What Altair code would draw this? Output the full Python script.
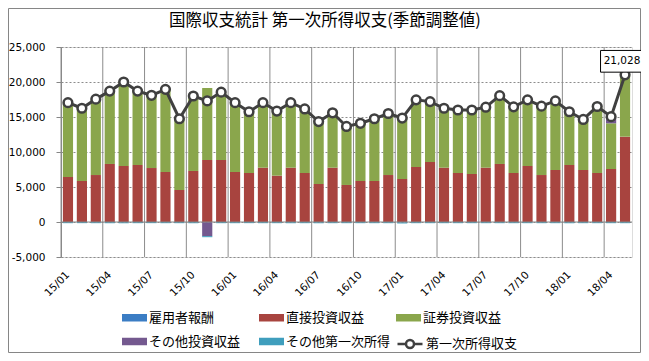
import altair as alt
import pandas as pd

months = ["15/01", "15/02", "15/03", "15/04", "15/05", "15/06", "15/07", "15/08", "15/09", "15/10", "15/11", "15/12",
          "16/01", "16/02", "16/03", "16/04", "16/05", "16/06", "16/07", "16/08", "16/09", "16/10", "16/11", "16/12",
          "17/01", "17/02", "17/03", "17/04", "17/05", "17/06", "17/07", "17/08", "17/09", "17/10", "17/11", "17/12",
          "18/01", "18/02", "18/03", "18/04", "18/05"]
label_months = ["15/01", "15/04", "15/07", "15/10", "16/01", "16/04", "16/07", "16/10",
                "17/01", "17/04", "17/07", "17/10", "18/01", "18/04"]

title_text = "国際収支統計 第一次所得収支(季節調整値)"
bar_names = ["雇用者報酬", "直接投資収益", "証券投資収益", "その他投資収益", "その他第一次所得"]
bar_colors = ["#3B7DC4", "#A8443F", "#8AA64C", "#74598F", "#3F9EBD"]
line_name = "第一次所得収支"

employee = [-20, -15, -20, -25, -20, -20, -15, -20, -20, -25, -20, -20, -20, -15, -20, -20, -25, -20, -20, -20, -20,
            -20, -20, -20, -60, -20, -20, -20, -20, -20, -20, -20, -20, -20, -20, -20, -20, -20, -20, -20, -20]
direct = [6430, 5860, 6710, 8290, 8000, 8140, 7710, 7140, 4570, 7290, 8860, 8860, 7140, 7000, 7760, 6620, 7760,
          7000, 5430, 7760, 5290, 5860, 5860, 6710, 6140, 7860, 8570, 7760, 7000, 6860, 7760, 8290, 7000, 8000,
          6710, 7430, 8140, 7430, 7000, 7570, 12190]
portfolio = [10690, 10460, 10910, 10480, 12070, 10630, 10460, 11880, 10250, 10780, 10280, 9760, 9980, 8820, 9360,
             9300, 9360, 9220, 8990, 7910, 8430, 8310, 8960, 8860, 8780, 9660, 8700, 8560, 9070, 9210, 8710, 9830,
             9520, 9520, 9910, 9940, 7480, 7290, 9570, 6530, 8900]
other_invest = [100, 100, 100, 100, 100, 100, 100, 100, 100, 100, -2000, 100, 100, 100, 100, 100, 100, 100, 100,
                100, 100, 100, 100, 100, 100, 100, 100, 100, 100, 100, 100, 100, 100, 100, 100, 100, 300, 100, 100,
                600, 100]
other_primary = [-150, -150, -150, -150, -150, -150, -150, -150, -150, -150, -150, -150, -150, -150, -150, -150,
                 -150, -150, -150, -150, -150, -150, -150, -150, -150, -150, -150, -150, -150, -150, -150, -150,
                 -150, -150, -150, -150, -150, -150, -150, -150, -150]
total = [17050, 16250, 17550, 18700, 20000, 18700, 18100, 18950, 14750, 18000, 17300, 18550, 17050, 15750, 17050,
         15850, 17050, 16150, 14350, 15600, 13650, 14100, 14750, 15500, 14850, 17450, 17200, 16250, 16000, 16000,
         16400, 18050, 16450, 17450, 16550, 17300, 15750, 14650, 16500, 15050, 21028]
y_ticks = [-5000, 0, 5000, 10000, 15000, 20000, 25000]

components = [employee, direct, portfolio, other_invest, other_primary]
rows = []
for k, vals in enumerate(components):
    for m, v in zip(months, vals):
        rows.append({"month": m, "series": bar_names[k], "order": k, "value": v})
bars_df = pd.DataFrame(rows)
total_df = pd.DataFrame({"month": months, "total": total, "series": line_name})
last_df = pd.DataFrame({"month": [months[-1]], "total": [total[-1]], "label": ["21,028"]})
grid_df = pd.DataFrame({"month": label_months})
zero_df = pd.DataFrame({"y": [0]})

W, H = 571, 210
PL, PT, PR, PB = 53, 39, 9, 96

x_scale = alt.Scale(domain=months, paddingInner=0, paddingOuter=0)
y_scale = alt.Scale(domain=[-5000, 25000], nice=False)

x_axis = alt.Axis(values=label_months, labelAngle=-45, labelAlign="right", labelBaseline="middle",
                  ticks=False, domain=False, grid=False, labelPadding=16, title=None,
                  labelOverlap=False, labelFont="DejaVu Sans", labelFontSize=10.5, labelColor="#000")
y_axis = alt.Axis(values=y_ticks, grid=True, gridDash=[2, 2], gridColor="#8c8c8c", domainColor="#868686",
                  tickColor="#868686", tickSize=5, labelPadding=11, labelFont="DejaVu Sans",
                  labelFontSize=10.5, labelColor="#000", title=None, labelOverlap=False,
                  labelExpr="(datum.value < 0 ? '-' : '') + format(abs(datum.value), ',')")

LINE_SYM = "M-1,0H-0.32M0.32,0H1M-0.32,0A0.32,0.32 0 1,0 0.32,0A0.32,0.32 0 1,0 -0.32,0Z"
BAR_SYM = "M-1,-0.3H1V0.3H-1Z"

frame = alt.Chart(zero_df).mark_rect(fill=None, stroke="#868686", strokeWidth=1, clip=False).encode(
    x=alt.value(-PL + 0.5), x2=alt.value(W + PR - 0.5), y=alt.value(-PT + 0.5), y2=alt.value(H + PB - 0.5)
)

title = alt.Chart(zero_df).mark_text(font="Noto Sans CJK JP", fontSize=16.5, color="#000", baseline="middle",
                                     align="center").encode(
    x=alt.value(264), y=alt.value(-26), text=alt.value(title_text)
)

vgrid = alt.Chart(grid_df).mark_rule(color="#8c8c8c", strokeWidth=1).encode(
    x=alt.X("month:O", scale=x_scale, bandPosition=0, axis=x_axis)
)

bars = alt.Chart(bars_df).mark_bar(width=alt.RelativeBandSize(0.73)).encode(
    x=alt.X("month:O", scale=x_scale, sort=months, axis=x_axis),
    y=alt.Y("value:Q", stack="zero", scale=y_scale, axis=y_axis),
    color=alt.Color("series:N", scale=alt.Scale(domain=bar_names, range=bar_colors),
                    legend=alt.Legend(orient="none", legendX=61, legendY=258, direction="horizontal", columns=3,
                                      title=None, symbolType=BAR_SYM, symbolSize=625, labelFont="Noto Sans CJK JP",
                                      labelFontSize=13, labelColor="#000", labelOffset=2, columnPadding=5,
                                      rowPadding=4, gridAlign="all", symbolStrokeWidth=0, symbolOpacity=1)),
    order=alt.Order("order:Q"),
)

zero_rule = alt.Chart(zero_df).mark_rule(color="#868686", strokeWidth=1).encode(
    y=alt.Y("y:Q", scale=y_scale, axis=y_axis))

line = alt.Chart(total_df).mark_line(color="#404040", strokeWidth=3).encode(
    x=alt.X("month:O", scale=x_scale, sort=months, bandPosition=0.5, axis=x_axis),
    y=alt.Y("total:Q", scale=y_scale, axis=y_axis),
)
points = alt.Chart(total_df).mark_point(shape="circle", filled=True, fill="white", stroke="#404040",
                                        strokeWidth=2.5, size=75, opacity=1).encode(
    x=alt.X("month:O", scale=x_scale, sort=months, bandPosition=0.5, axis=x_axis),
    y=alt.Y("total:Q", scale=y_scale, axis=y_axis),
)
legend_points = alt.Chart(total_df).transform_filter("false").mark_point(
    filled=False, color="#404040", strokeWidth=2.5, opacity=1).encode(
    x=alt.X("month:O", scale=x_scale, sort=months, bandPosition=0.5, axis=x_axis),
    y=alt.Y("total:Q", scale=y_scale, axis=y_axis),
    shape=alt.Shape("series:N", scale=alt.Scale(domain=[line_name], range=[LINE_SYM]),
                    legend=alt.Legend(orient="none", legendX=335, legendY=283, title=None, symbolSize=625,
                                      labelFont="Noto Sans CJK JP", labelFontSize=13, labelColor="#000",
                                      labelOffset=2, symbolFillColor="white", symbolStrokeColor="#404040",
                                      symbolStrokeWidth=2.5, symbolOpacity=1)),
)
box = alt.Chart(last_df).mark_point(shape="M-1,-0.53H1V0.53H-1Z", size=1681, filled=True, fill="white",
                                    stroke="#000", strokeWidth=1, opacity=1, xOffset=-4, yOffset=-13.5,
                                    clip=False).encode(
    x=alt.X("month:O", scale=x_scale, sort=months, bandPosition=0.5, axis=x_axis),
    y=alt.Y("total:Q", scale=y_scale, axis=y_axis),
)
label = alt.Chart(last_df).mark_text(font="DejaVu Sans", fontSize=10.5, color="#000", dx=-3, dy=-13.5,
                                     baseline="middle", align="center").encode(
    x=alt.X("month:O", scale=x_scale, sort=months, bandPosition=0.5, axis=x_axis),
    y=alt.Y("total:Q", scale=y_scale, axis=y_axis),
    text="label:N",
)

chart = alt.layer(frame, title, vgrid, bars, zero_rule, line, points, legend_points, box, label).properties(
    width=W, height=H,
    padding={"left": PL, "top": PT, "right": PR, "bottom": PB},
    autosize=alt.AutoSizeParams(type="none"),
).resolve_legend(color="independent", shape="independent").configure_view(stroke=None).configure(background="white")

chart.save("out.html", embed_options={"renderer": "svg", "actions": False})
